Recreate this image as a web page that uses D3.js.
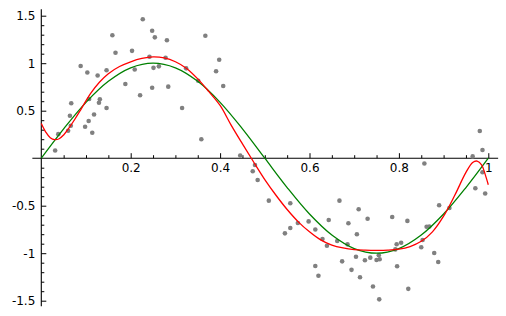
<!DOCTYPE html>
<html>
<head>
<meta charset="utf-8">
<script src="https://cdn.jsdelivr.net/npm/d3@7"></script>
<style>
  html, body { margin: 0; padding: 0; background: #fff; }
  svg { display: block; }
  text { font-family: "DejaVu Sans", sans-serif; font-size: 12px; fill: #000; }
</style>
</head>
<body>
<svg id="chart" width="506" height="316"></svg>
<script>
// ---- data ----
const pointX = [0.031,0.038,0.060,0.066,0.064,0.067,0.088,0.103,0.098,0.106,0.114,0.118,0.107,0.126,0.131,0.129,0.146,0.146,0.188,0.159,
  0.166,0.203,0.209,0.221,0.227,0.242,0.248,0.248,0.251,0.254,0.263,0.281,0.278,0.284,0.324,0.315,0.367,0.398,0.391,0.407,
  0.351,0.358,0.445,0.478,0.473,0.484,0.509,0.557,0.574,0.557,0.545,0.598,0.613,0.643,0.629,0.639,0.613,0.620,0.667,0.710,
  0.687,0.730,0.785,0.819,0.706,0.662,0.685,0.704,0.673,0.724,0.736,0.750,0.757,0.755,0.795,0.805,0.792,0.796,0.694,0.713,
  0.742,0.821,0.756,0.857,0.850,0.853,0.862,0.868,0.879,0.888,0.890,0.913,0.965,0.981,0.987,0.987,0.971,0.993];
const pointY = [0.081,0.253,0.289,0.342,0.447,0.578,0.970,0.902,0.331,0.392,0.268,0.460,0.623,0.871,0.620,0.584,0.925,0.528,0.781,1.294,
  1.110,1.130,0.933,0.663,1.462,1.068,1.342,0.742,0.951,1.272,0.967,1.241,1.057,0.753,0.946,0.528,1.289,1.037,0.915,0.760,
  0.816,0.199,0.028,-0.072,-0.138,-0.230,-0.447,-0.474,-0.682,-0.735,-0.791,-0.665,-0.751,-0.651,-0.851,-0.922,-1.135,-1.237,-0.447,-0.538,
  -0.685,-0.637,-0.619,-0.660,-0.800,-0.872,-0.907,-1.037,-1.086,-1.074,-1.047,-1.072,-1.063,-1.022,-0.906,-0.890,-0.960,-1.138,-1.175,-1.253,
  -1.351,-1.375,-1.486,-0.056,-0.938,-0.861,-0.722,-0.720,-0.998,-1.093,-0.496,-0.524,0.019,0.286,0.086,-0.148,-0.316,-0.372];

const greenX = [0,0.05,0.1,0.15,0.2,0.25,0.3,0.35,0.4,0.45,0.5,0.55,0.6,0.65,0.7,0.75,0.8,0.85,0.9,0.95,1];
const greenY = [0,0.309,0.588,0.809,0.951,1,0.951,0.809,0.588,0.309,0,-0.309,-0.588,-0.809,-0.951,-1,-0.951,-0.809,-0.588,-0.309,0];

const redX = [0,0.01,0.02,0.03,0.04,0.05,0.06,0.075,0.09,0.11,0.13,0.15,0.175,0.2,0.225,0.25,0.275,0.3,0.325,0.35,0.375,0.4,0.425,0.45,0.475,
  0.5,0.525,0.55,0.575,0.6,0.625,0.65,0.675,0.7,0.725,0.75,0.775,0.8,0.825,0.85,0.875,0.9,0.925,0.95,0.965,0.975,0.985,0.993,1];
const redY = [0.365,0.275,0.215,0.195,0.205,0.245,0.305,0.41,0.525,0.68,0.80,0.89,0.965,1.015,1.05,1.066,1.055,1.015,0.945,0.835,0.70,0.555,0.345,0.15,-0.04,
  -0.225,-0.39,-0.54,-0.67,-0.775,-0.86,-0.915,-0.945,-0.962,-0.968,-0.970,-0.968,-0.958,-0.93,-0.875,-0.775,-0.61,-0.39,-0.15,-0.045,-0.03,-0.07,-0.17,-0.28];

const xMajorTicks = [0.2,0.4,0.6,0.8,1];
const xMajorLabels = ["0.2","0.4","0.6","0.8","1"];
const yMajorTicks = [-1.5,-1,-0.5,0.5,1,1.5];
const yMajorLabels = ["-1.5","-1","-0.5","0.5","1","1.5"];

// ---- drawing ----
const svg = d3.select("#chart");
const x = d3.scaleLinear().domain([0, 1]).range([41.3, 488.3]);
const y = d3.scaleLinear().domain([0, 1]).range([158.2, 63.2]);
const xExtent = [-0.02, 1.022];
const yExtent = [-1.558, 1.568];

// minor tick values
const xMinor = d3.range(1, 21).map(i => +(i * 0.05).toFixed(2)).filter(v => !xMajorTicks.includes(v));
const yMinor = d3.range(-15, 16).map(i => +(i * 0.1).toFixed(1)).filter(v => v !== 0 && !yMajorTicks.includes(v));

// x axis
const gx = svg.append("g").attr("transform", `translate(0,${y(0)})`);
gx.append("line").attr("x1", x(xExtent[0])).attr("x2", x(xExtent[1]))
  .attr("stroke", "#000").attr("stroke-width", 1.1);
const xAxisMajor = d3.axisBottom(x).tickValues(xMajorTicks)
  .tickFormat((d, i) => xMajorLabels[i]).tickSizeInner(-5).tickSizeOuter(0).tickPadding(5.5);
const gxMaj = gx.append("g").call(xAxisMajor);
const xAxisMinor = d3.axisBottom(x).tickValues(xMinor).tickFormat("").tickSizeInner(-3).tickSizeOuter(0);
const gxMin = gx.append("g").call(xAxisMinor);

// y axis
const gy = svg.append("g").attr("transform", `translate(${x(0)},0)`);
gy.append("line").attr("y1", y(yExtent[0])).attr("y2", y(yExtent[1]))
  .attr("stroke", "#000").attr("stroke-width", 1.1);
const yAxisMajor = d3.axisLeft(y).tickValues(yMajorTicks)
  .tickFormat((d, i) => yMajorLabels[i]).tickSizeInner(-5).tickSizeOuter(0).tickPadding(6);
const gyMaj = gy.append("g").call(yAxisMajor);
const yAxisMinor = d3.axisLeft(y).tickValues(yMinor).tickFormat("").tickSizeInner(-3).tickSizeOuter(0);
const gyMin = gy.append("g").call(yAxisMinor);

[gxMaj, gxMin, gyMaj, gyMin].forEach(g => {
  g.select(".domain").remove();
  g.selectAll(".tick line").attr("stroke", "#000").attr("stroke-width", 1);
  g.selectAll("text").attr("font-family", "DejaVu Sans, sans-serif").attr("font-size", 12).attr("fill", "#000");
});
gyMaj.selectAll("text").attr("dy", "0.34em");

// points
svg.append("g").selectAll("circle")
  .data(pointX.map((d, i) => [d, pointY[i]]))
  .join("circle")
  .attr("cx", d => x(d[0])).attr("cy", d => y(d[1])).attr("r", 2.3)
  .attr("fill", "#808080");

// green curve
const line = d3.line().x(d => x(d[0])).y(d => y(d[1])).curve(d3.curveCatmullRom.alpha(0.5));
svg.append("path").datum(greenX.map((d, i) => [d, greenY[i]]))
  .attr("d", line).attr("fill", "none").attr("stroke", "#008000").attr("stroke-width", 1.3);

// red curve
svg.append("path").datum(redX.map((d, i) => [d, redY[i]]))
  .attr("d", line).attr("fill", "none").attr("stroke", "#ff0000").attr("stroke-width", 1.3);
</script>
</body>
</html>
